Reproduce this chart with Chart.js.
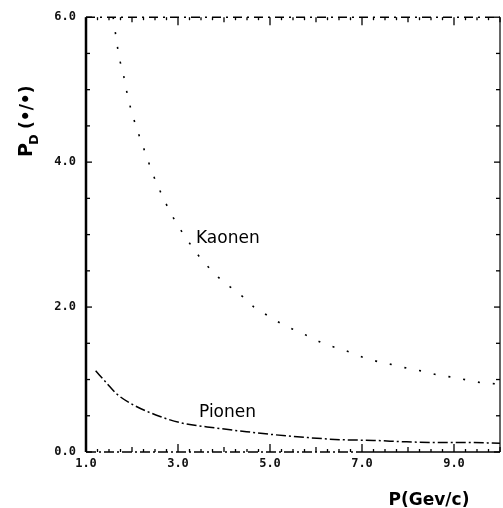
<!DOCTYPE html>
<html>
<head>
<meta charset="utf-8">
<script src="https://cdn.jsdelivr.net/npm/chart.js@4.4.0/dist/chart.umd.min.js"></script>
<style>
  body { margin: 0; background: #fff; }
  #wrap { width: 503px; height: 508px; position: relative; }
</style>
</head>
<body>
<div id="wrap"><canvas id="myChart"></canvas></div>
<script>
// values
var kaonP  = [1.59, 1.67, 1.72, 1.81, 1.88, 1.96, 2.05, 2.17, 2.30, 2.41, 2.54, 2.68, 2.83, 3.41, 3.62, 3.88, 4.13, 4.41, 4.65, 4.93, 5.22, 5.51, 5.83, 6.12, 6.77, 7.10, 7.83, 8.08, 8.37, 8.66, 8.99, 9.31, 9.67, 10.0];
var kaonPD = [6.00, 5.65, 5.45, 5.22, 4.99, 4.77, 4.57, 4.34, 4.11, 3.91, 3.70, 3.51, 3.31, 2.74, 2.58, 2.41, 2.28, 2.14, 2.00, 1.89, 1.78, 1.69, 1.60, 1.51, 1.37, 1.29, 1.18, 1.14, 1.11, 1.06, 1.03, 0.99, 0.95, 0.94];

var pionP  = [1.21, 1.45, 1.67, 2.03, 2.61, 3.08, 3.84, 4.49, 5.07, 5.80, 6.52, 7.25, 7.97, 8.70, 9.42, 10.0];
var pionPD = [1.12, 0.95, 0.80, 0.65, 0.49, 0.40, 0.33, 0.28, 0.24, 0.20, 0.17, 0.16, 0.14, 0.13, 0.13, 0.12];

var xTicks = [1, 3, 5, 7, 9];
var yTicks = [0, 2, 4, 6];

function toPoints(xs, ys) {
    return xs.map(function(x, i) { return {x: x, y: ys[i]}; });
}

// frame, inward ticks, curve labels and axis titles
var decor = {
    id: 'decor',
    afterDraw: function(chart) {
        var ctx = chart.ctx;
        var a = chart.chartArea;
        var xs = chart.scales.x, ys = chart.scales.y;
        ctx.save();
        ctx.strokeStyle = '#000';
        ctx.lineCap = 'butt';

        // left axis, heavy
        ctx.lineWidth = 2.5;
        ctx.beginPath(); ctx.moveTo(a.left, a.top); ctx.lineTo(a.left, a.bottom); ctx.stroke();
        // right axis
        ctx.lineWidth = 1.2;
        ctx.beginPath(); ctx.moveTo(a.right, a.top); ctx.lineTo(a.right, a.bottom); ctx.stroke();
        // bottom axis
        ctx.lineWidth = 1.5;
        ctx.setLineDash([10, 3, 2, 3]);
        ctx.beginPath(); ctx.moveTo(a.left, a.bottom); ctx.lineTo(xs.getPixelForValue(7), a.bottom); ctx.stroke();
        ctx.setLineDash([]);
        ctx.beginPath(); ctx.moveTo(xs.getPixelForValue(7), a.bottom); ctx.lineTo(a.right, a.bottom); ctx.stroke();
        // top axis, dashed
        ctx.setLineDash([9, 5, 2, 5]);
        ctx.beginPath(); ctx.moveTo(a.left, a.top); ctx.lineTo(a.right, a.top); ctx.stroke();
        ctx.setLineDash([]);

        // x ticks every 0.25, long at labelled values
        ctx.lineWidth = 1.3;
        for (var v = 1; v <= 10.001; v += 0.25) {
            var px = xs.getPixelForValue(v);
            var major = xTicks.indexOf(Math.round(v * 100) / 100) >= 0;
            var len = major ? 8 : (Math.abs(v - Math.round(v)) < 0.01 ? 5 : 3);
            ctx.beginPath(); ctx.moveTo(px, a.bottom); ctx.lineTo(px, a.bottom - len); ctx.stroke();
            ctx.beginPath(); ctx.moveTo(px, a.top); ctx.lineTo(px, a.top + len); ctx.stroke();
        }
        // y ticks every 0.5
        for (var w = 0; w <= 6.001; w += 0.5) {
            var py = ys.getPixelForValue(w);
            var ylen = yTicks.indexOf(w) >= 0 ? 6 : 4;
            ctx.beginPath(); ctx.moveTo(a.left, py); ctx.lineTo(a.left + ylen, py); ctx.stroke();
            ctx.beginPath(); ctx.moveTo(a.right, py); ctx.lineTo(a.right - ylen, py); ctx.stroke();
        }

        // curve labels
        ctx.fillStyle = '#000';
        ctx.font = '17px "DejaVu Sans"';
        ctx.textAlign = 'left';
        ctx.textBaseline = 'alphabetic';
        ctx.fillText('Kaonen', 196, 243);
        ctx.fillText('Pionen', 199, 417);

        // x axis title
        ctx.font = 'bold 17px "DejaVu Sans"';
        ctx.textAlign = 'center';
        ctx.fillText('P(Gev/c)', 429, 505);

        // y axis title: P with subscript D, rotated
        ctx.translate(32, 157);
        ctx.rotate(-Math.PI / 2);
        ctx.textAlign = 'left';
        ctx.font = 'bold 19px "DejaVu Sans"';
        ctx.fillText('P', 0, 0);
        ctx.font = 'bold 13px "DejaVu Sans"';
        ctx.fillText('D', 12, 6);
        ctx.font = 'bold 17px "DejaVu Sans"';
        ctx.fillText('(•/•)', 28, 0);
        ctx.restore();
    }
};

var ctx1 = document.getElementById('myChart').getContext('2d');
var myChart = new Chart(ctx1, {
    type: 'scatter',
    data: {
        datasets: [
            {
                label: 'Kaonen',
                data: toPoints(kaonP, kaonPD),
                showLine: true,
                borderColor: '#000',
                borderWidth: 1.6,
                borderDash: [2, 13],
                pointRadius: 0,
                cubicInterpolationMode: 'monotone'
            },
            {
                label: 'Pionen',
                data: toPoints(pionP, pionPD),
                showLine: true,
                borderColor: '#000',
                borderWidth: 1.5,
                borderDash: [10, 3, 2, 3],
                pointRadius: 0,
                cubicInterpolationMode: 'monotone'
            }
        ]
    },
    options: {
        responsive: true,
        maintainAspectRatio: false,
        animation: false,
        layout: { padding: { top: 16, right: 3, left: 0, bottom: 0 } },
        plugins: { legend: { display: false }, tooltip: { enabled: false } },
        scales: {
            x: {
                type: 'linear',
                min: 1, max: 10,
                grid: { display: false, drawTicks: false },
                border: { display: false },
                afterBuildTicks: function(s) { s.ticks = xTicks.map(function(v) { return {value: v}; }); },
                afterFit: function(s) { s.height = 56; },
                ticks: {
                    padding: 5,
                    color: '#111',
                    font: { family: '"DejaVu Sans Mono"', size: 12, weight: 'bold' },
                    callback: function(v) { return v.toFixed(1); }
                }
            },
            y: {
                type: 'linear',
                min: 0, max: 6,
                grid: { display: false, drawTicks: false },
                border: { display: false },
                afterBuildTicks: function(s) { s.ticks = yTicks.map(function(v) { return {value: v}; }); },
                afterFit: function(s) { s.width = 86; },
                ticks: {
                    padding: 10,
                    color: '#111',
                    font: { family: '"DejaVu Sans Mono"', size: 12, weight: 'bold' },
                    callback: function(v) { return v.toFixed(1); }
                }
            }
        }
    },
    plugins: [decor]
});
</script>
</body>
</html>
